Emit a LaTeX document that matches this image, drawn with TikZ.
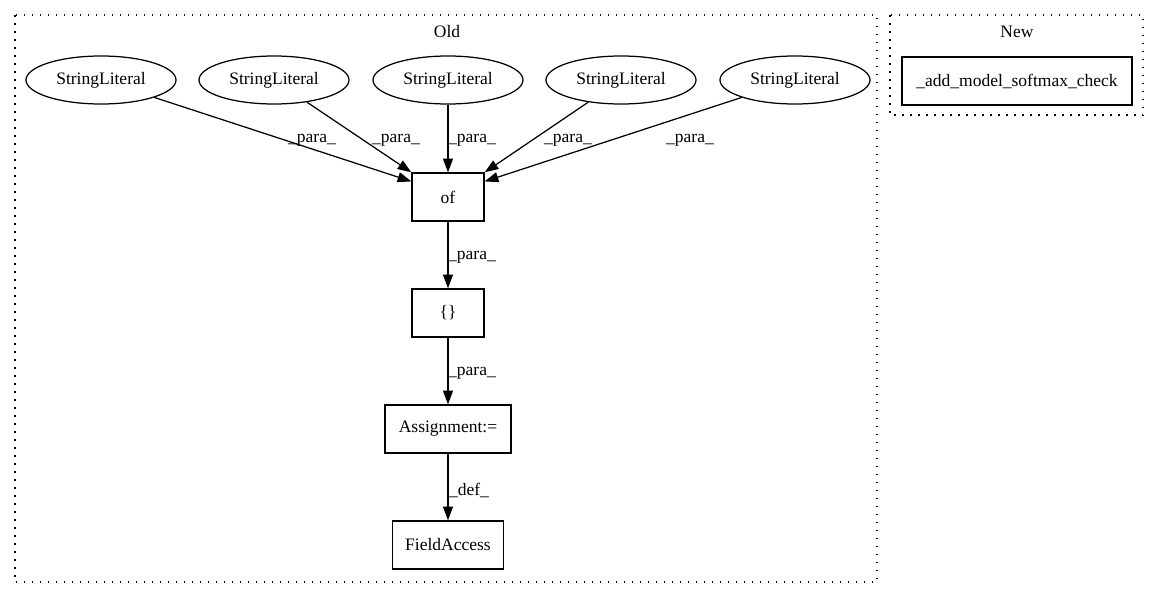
\documentclass[tikz,border=0pt]{standalone}
\usepackage{fontspec}
\setmainfont{Liberation Serif}
\usetikzlibrary{positioning, arrows.meta, shapes.geometric}

\begin{document}
\begin{tikzpicture}[
    x=0.8pt, y=-0.8pt,
    font=\fontsize{14}{16}\selectfont,
    litnode/.style={ellipse, draw=black, line width=1pt, minimum width=120pt, minimum height=38.4pt, inner sep=0pt},
    boxnode/.style={rectangle, draw=black, line width=1pt, minimum height=38.4pt, inner sep=0pt},
    cluster/.style={draw=black, line width=1.2pt, dash pattern=on 1.2pt off 5.2pt},
    edgelbl/.style={inner sep=0pt},
    arc/.style={-{Triangle[length=11pt,width=8pt]}, line width=1pt}
]
\useasboundingbox (0,0) rectangle (1160,596);

\draw[cluster] (15,15) rectangle (877,582);
\draw[cluster] (890,15) rectangle (1143,115);
\node[edgelbl](oldlbl) at (447,32) {Old};
\node[edgelbl](newlbl) at (1017,32) {New};

\node[litnode](s1) at (101, 80) {StringLiteral};
\node[litnode](s2) at (274, 80) {StringLiteral};
\node[litnode](s3) at (448, 80) {StringLiteral};
\node[litnode](s4) at (621, 80) {StringLiteral};
\node[litnode](s5) at (795, 80) {StringLiteral};

\node[boxnode, minimum width=57.6pt](of) at (448, 197) {of};
\node[boxnode, minimum width=57.6pt](brace) at (448, 313) {\{\}};
\node[boxnode, minimum width=100.8pt](assign) at (448, 429) {Assignment:=};
\node[boxnode, minimum width=88.8pt](field) at (448, 545) {FieldAccess};

\node[boxnode, minimum width=184pt](newfn) at (1017, 81) {\_add\_model\_softmax\_check};

\draw[arc] (s1) -- (of.157);
\draw[arc] (s2) -- (of.north west);
\draw[arc] (s3) -- (of);
\draw[arc] (s4) -- (of.north east);
\draw[arc] (s5) -- (of.23);

\draw[arc] (of) -- (brace);
\draw[arc] (brace) -- (assign);
\draw[arc] (assign) -- (field);

\node[edgelbl](p1) at (312, 140) {\_para\_};
\node[edgelbl](p2) at (396, 140) {\_para\_};
\node[edgelbl](p3) at (472, 140) {\_para\_};
\node[edgelbl](p4) at (568, 140) {\_para\_};
\node[edgelbl](p5) at (690, 140) {\_para\_};
\node[edgelbl](p6) at (472, 257) {\_para\_};
\node[edgelbl](p7) at (472, 373) {\_para\_};
\node[edgelbl](d1) at (469, 490) {\_def\_};
\end{tikzpicture}
\end{document}
